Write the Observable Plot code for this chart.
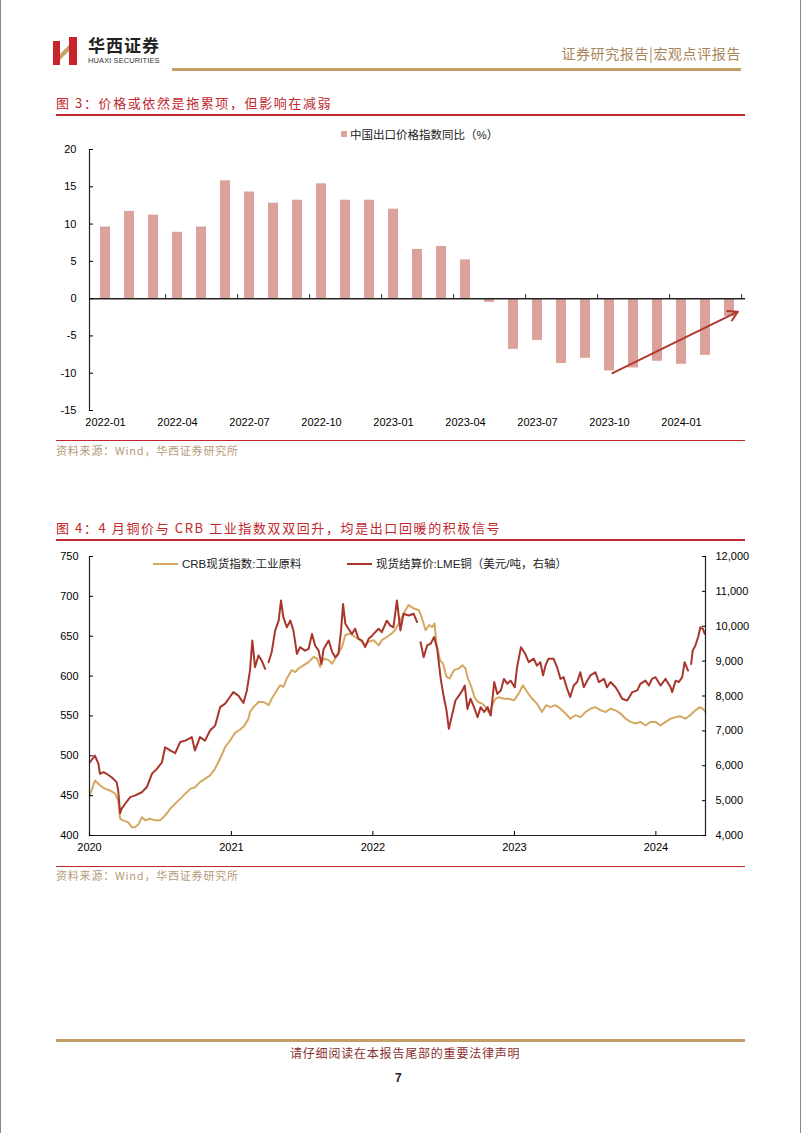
<!DOCTYPE html>
<html><head><meta charset="utf-8">
<script src="https://cdn.jsdelivr.net/npm/d3@7"></script>
<script src="https://cdn.jsdelivr.net/npm/@observablehq/plot@0.6"></script>
<style>
body{margin:0;background:#fff;}
#page{position:relative;width:802px;height:1133px;overflow:hidden;font-family:"Noto Sans CJK SC",sans-serif;background:#fff;}
.a{position:absolute;white-space:nowrap;}
.title{font-size:13px;color:#c1272d;letter-spacing:1.6px;line-height:16px;}
.src{font-size:11px;color:#b59a78;letter-spacing:0.8px;line-height:14px;}
.rline{height:1.5px;background:#c1272d;left:56px;width:689px;}
.leg{font-family:"Liberation Sans","Noto Sans CJK SC",sans-serif;font-size:11.5px;color:#222;line-height:14px;}
</style></head><body><div id="page">
<div class="a" style="left:0;top:0;width:1px;height:1133px;background:#8a8a8a"></div>
<div class="a" style="left:800px;top:0;width:1px;height:1133px;background:#8a8a8a"></div>
<svg class="a" style="left:53px;top:37px" width="26" height="28"><rect x="0" y="4" width="7" height="24" fill="#c8232c"/><rect x="16" y="0" width="8" height="28" fill="#c8232c"/><polygon points="7,17 16,8 16,14 7,23" fill="#c9a063"/></svg>
<div class="a" style="left:88px;top:35px;font-size:17px;font-weight:bold;letter-spacing:1px;color:#222;line-height:20px">华西证券</div>
<div class="a" style="left:88px;top:56px;font-family:'Liberation Sans',sans-serif;font-size:7.5px;color:#333;line-height:9px;letter-spacing:0.1px">HUAXI SECURITIES</div>
<div class="a" style="right:61px;top:44px;font-size:14px;color:#a88658;letter-spacing:0.6px;line-height:18px">证券研究报告|宏观点评报告</div>
<div class="a" style="left:172px;top:68px;width:569px;height:2.5px;background:#c59f68"></div>

<div class="a title" style="left:56px;top:95px">图 3：价格或依然是拖累项，但影响在减弱</div>
<div class="a rline" style="top:114px"></div>
<div class="a" style="left:341px;top:131px;width:6px;height:6px" id="leg1sq"></div>
<div class="a leg" style="left:350px;top:128px">中国出口价格指数同比（%）</div>
<div class="a" id="chart1" style="left:40px;top:120px"></div>
<div class="a rline" style="top:440px;height:1px"></div>
<div class="a src" style="left:56px;top:443px">资料来源：Wind，华西证券研究所</div>

<div class="a title" style="left:56px;top:520px">图 4：4 月铜价与 CRB 工业指数双双回升，均是出口回暖的积极信号</div>
<div class="a rline" style="top:539px"></div>
<div class="a" id="leg2a" style="left:153px;top:563px;width:25px;height:2px"></div>
<div class="a leg" style="left:182px;top:557px">CRB现货指数:工业原料</div>
<div class="a" id="leg2b" style="left:347px;top:563px;width:25px;height:2px"></div>
<div class="a leg" style="left:376px;top:557px">现货结算价:LME铜（美元/吨，右轴）</div>
<div class="a" id="chart2" style="left:40px;top:540px"></div>
<div class="a rline" style="top:866px;height:1px"></div>
<div class="a src" style="left:56px;top:868px">资料来源：Wind，华西证券研究所</div>

<div class="a" style="left:56px;top:1039px;width:689px;height:3px;background:#c59f68"></div>
<div class="a" style="left:290px;top:1045px;font-size:12px;color:#8a3030;letter-spacing:0.8px;line-height:16px">请仔细阅读在本报告尾部的重要法律声明</div>
<div class="a" style="left:395px;top:1071px;font-family:'Liberation Sans',sans-serif;font-size:12px;font-weight:bold;color:#222">7</div>
</div>
<script>
// ---------- Chart 1 data ----------
const months = ["2022-01","2022-02","2022-03","2022-04","2022-05","2022-06","2022-07","2022-08","2022-09","2022-10","2022-11","2022-12",
  "2023-01","2023-02","2023-03","2023-04","2023-05","2023-06","2023-07","2023-08","2023-09","2023-10","2023-11","2023-12",
  "2024-01","2024-02","2024-03"];
const exportPriceYoY = [9.6, 11.7, 11.2, 8.9, 9.6, 15.8, 14.3, 12.8, 13.2, 15.4, 13.2, 13.2,
  12.0, 6.6, 7.0, 5.2, -0.5, -6.8, -5.6, -8.7, -8.0, -9.7, -9.3, -8.4,
  -8.8, -7.6, -2.4];
const monthLabels = ["2022-01","2022-04","2022-07","2022-10","2023-01","2023-04","2023-07","2023-10","2024-01"];
const monthTickAfter = ["2022-03","2022-06","2022-09","2022-12","2023-03","2023-06","2023-09","2023-12","2024-03"];
const yTicks1 = [-15, -10, -5, 0, 5, 10, 15, 20];
const trendArrow = [{from: "2023-10", to: "2024-03", yFrom: -10, yTo: -2.1}];

// ---------- Chart 2 data ----------
const crbIndustrial = [
 ["2020-01-02",450.5],["2020-01-15",469],["2020-01-28",463],["2020-02-10",458.5],["2020-02-23",456.5],["2020-03-07",452.5],["2020-03-15",444],["2020-03-20",421],["2020-03-28",419],["2020-04-10",416.5],["2020-04-19",410.5],["2020-04-28",410.5],["2020-05-07",414.5],["2020-05-15",423],["2020-05-24",419],["2020-06-05",421],["2020-06-18",419],["2020-07-01",419],["2020-07-14",425],["2020-07-27",433.5],["2020-08-09",440],["2020-08-22",446],["2020-09-04",452.5],["2020-09-17",458.5],["2020-09-29",460.5],["2020-10-12",467],["2020-10-25",471],["2020-11-07",475.5],["2020-11-20",484],["2020-12-03",496.5],["2020-12-16",511],["2020-12-29",519.5],
 ["2021-01-11",529],["2021-01-24",533],["2021-02-04",538],["2021-02-14",546.5],["2021-02-18",555],["2021-02-27",561],["2021-03-12",567.5],["2021-03-25",567.5],["2021-04-07",563.5],["2021-04-15",571.5],["2021-04-28",582],["2021-05-07",588.5],["2021-05-15",586.5],["2021-05-24",597],["2021-06-06",607.5],["2021-06-15",605],["2021-06-23",609.5],["2021-07-06",613.5],["2021-07-19",617.5],["2021-08-01",624],["2021-08-10",622],["2021-08-18",611.5],["2021-08-27",622],["2021-09-09",620],["2021-09-18",615.5],["2021-09-26",622],["2021-10-04",628.5],["2021-10-13",636.5],["2021-10-22",651.5],["2021-11-04",653.5],["2021-11-16",649],["2021-11-30",645],["2021-12-12",638.5],["2021-12-21",643],
 ["2022-01-03",645],["2022-01-16",638.5],["2022-01-24",645],["2022-02-06",649],["2022-02-19",653.5],["2022-02-27",657.5],["2022-03-13",670],["2022-03-26",682.5],["2022-04-03",689],["2022-04-16",685],["2022-04-30",682.5],["2022-05-08",672],["2022-05-17",657.5],["2022-05-26",664],["2022-06-03",661.5],["2022-06-09",666],["2022-06-14",641],["2022-06-23",620],["2022-07-01",615.5],["2022-07-10",599],["2022-07-18",597],["2022-07-29",607.5],["2022-08-11",609.5],["2022-08-20",613.5],["2022-08-28",609.5],["2022-09-03",597],["2022-09-12",586.5],["2022-09-20",573.5],["2022-09-29",567.5],["2022-10-10",565.5],["2022-10-19",561],["2022-10-29",553],["2022-11-05",563.5],["2022-11-13",571.5],["2022-11-22",573.5],["2022-12-05",571.5],["2022-12-18",571.5],["2022-12-31",569.5],
 ["2023-01-12",578],["2023-01-23",588.5],["2023-02-03",580],["2023-02-16",571.5],["2023-02-28",565.5],["2023-03-13",555],["2023-03-24",563.5],["2023-04-04",561],["2023-04-17",563.5],["2023-04-30",559],["2023-05-13",553],["2023-05-25",546.5],["2023-06-08",551],["2023-06-20",548.5],["2023-07-04",555],["2023-07-16",559],["2023-07-29",561],["2023-08-12",557],["2023-08-25",555],["2023-09-06",559],["2023-09-19",557],["2023-10-02",553],["2023-10-15",546.5],["2023-10-28",542.5],["2023-11-10",540.5],["2023-11-22",542.5],["2023-12-05",538],["2023-12-18",542.5],["2023-12-31",542.5],
 ["2024-01-13",538],["2024-01-26",542.5],["2024-02-08",546.5],["2024-02-21",548.5],["2024-03-04",549.5],["2024-03-17",546.5],["2024-03-30",551],["2024-04-12",557],["2024-04-23",561],["2024-05-01",559],["2024-05-08",555]
];
const lmeCopper = [
 ["2020-01-02",6100],["2020-01-15",6290],["2020-01-24",6060],["2020-01-28",5770],["2020-02-06",5820],["2020-02-14",5770],["2020-02-27",5670],["2020-03-11",5530],["2020-03-15",5290],["2020-03-20",4640],["2020-03-24",4770],["2020-04-02",4910],["2020-04-15",5100],["2020-04-28",5150],["2020-05-15",5240],["2020-05-28",5390],["2020-06-10",5770],["2020-06-23",5910],["2020-07-06",6100],["2020-07-14",6530],["2020-07-27",6440],["2020-08-09",6360],["2020-08-22",6680],["2020-09-04",6720],["2020-09-21",6820],["2020-09-29",6440],["2020-10-12",6820],["2020-10-25",6720],["2020-11-07",7010],["2020-11-20",7150],["2020-12-03",7680],["2020-12-16",7780],["2020-12-25",7920],
 ["2021-01-06",8110],["2021-01-19",8010],["2021-02-01",7800],["2021-02-10",8160],["2021-02-18",8730],["2021-02-24",9590],["2021-03-03",8830],["2021-03-12",9160],["2021-03-20",9020],["2021-03-29",8780],["2021-04-02",null],["2021-04-07",8970],["2021-04-15",9260],["2021-04-24",9880],["2021-05-03",10160],["2021-05-09",10740],["2021-05-15",10260],["2021-05-24",9970],["2021-06-02",10160],["2021-06-10",9880],["2021-06-19",9210],["2021-06-27",9400],["2021-07-10",9300],["2021-07-19",9350],["2021-07-28",9780],["2021-08-05",9450],["2021-08-14",9300],["2021-08-21",8920],["2021-08-27",9350],["2021-09-09",9590],["2021-09-18",9260],["2021-09-26",9110],["2021-10-04",9210],["2021-10-11",9880],["2021-10-16",10640],["2021-10-22",10070],["2021-10-30",9930],["2021-11-08",9780],["2021-11-16",9930],["2021-11-25",9640],["2021-12-04",9590],["2021-12-12",9400],["2021-12-21",9640],["2021-12-30",9730],
 ["2022-01-07",9830],["2022-01-16",9930],["2022-01-24",9830],["2022-02-06",10160],["2022-02-15",10020],["2022-02-23",9970],["2022-03-04",10740],["2022-03-13",9880],["2022-03-21",10360],["2022-04-03",10310],["2022-04-16",10360],["2022-04-25",10120],["2022-04-29",null],["2022-05-04",9540],["2022-05-12",9110],["2022-05-21",9450],["2022-05-30",9500],["2022-06-08",9690],["2022-06-16",9350],["2022-06-25",8490],["2022-07-03",7970],["2022-07-10",7580],["2022-07-16",7060],["2022-07-25",7490],["2022-08-02",7870],["2022-08-11",8010],["2022-08-20",8160],["2022-08-26",8300],["2022-09-02",7630],["2022-09-10",7920],["2022-09-19",7680],["2022-09-28",7390],["2022-10-06",7680],["2022-10-15",7540],["2022-10-24",7680],["2022-11-01",7440],["2022-11-10",8400],["2022-11-18",8060],["2022-11-27",8160],["2022-12-05",8490],["2022-12-14",8350],["2022-12-22",8440],
 ["2023-01-02",8250],["2023-01-08",8830],["2023-01-18",9400],["2023-01-29",9210],["2023-02-07",8970],["2023-02-20",9070],["2023-02-28",8870],["2023-03-09",8970],["2023-03-16",8590],["2023-03-22",8870],["2023-03-30",9070],["2023-04-12",9070],["2023-04-21",8830],["2023-04-30",8490],["2023-05-08",8540],["2023-05-17",8210],["2023-05-25",7970],["2023-06-03",8300],["2023-06-12",8400],["2023-06-20",8680],["2023-06-29",8250],["2023-07-08",8440],["2023-07-16",8590],["2023-07-29",8680],["2023-08-07",8400],["2023-08-20",8490],["2023-08-28",8250],["2023-09-06",8400],["2023-09-19",8250],["2023-09-27",8110],["2023-10-06",7920],["2023-10-19",7870],["2023-11-01",8110],["2023-11-14",8160],["2023-11-22",8350],["2023-12-05",8440],["2023-12-14",8300],["2023-12-22",8490],["2023-12-31",8540],
 ["2024-01-13",8300],["2024-01-26",8490],["2024-02-08",8250],["2024-02-12",8110],["2024-02-21",8440],["2024-02-29",8400],["2024-03-09",8540],["2024-03-15",8970],["2024-03-24",8730],["2024-03-28",null],["2024-04-01",8920],["2024-04-05",9300],["2024-04-12",9450],["2024-04-19",9690],["2024-04-25",9970],["2024-05-01",9930],["2024-05-06",9780]
];
const leftTicks = [400, 450, 500, 550, 600, 650, 700, 750];
const rightTicks = [4000, 5000, 6000, 7000, 8000, 9000, 10000, 11000, 12000];
const yearTicks = ["2020-01-01", "2021-01-01", "2022-01-01", "2023-01-01", "2024-01-01"];
const dateDomain = ["2020-01-01", "2024-05-08"];

// ---------- colors ----------
const barColor = "#dba29b", arrowColor = "#b0392f", crbColor = "#d5a862", lmeColor = "#a8362d";
document.getElementById("leg1sq").style.background = barColor;
document.getElementById("leg2a").style.background = crbColor;
document.getElementById("leg2b").style.background = lmeColor;

const axisStyle = {fontFamily: '"Liberation Sans", Arial, sans-serif', fontSize: "11px", color: "#000", background: "transparent", overflow: "visible"};

// ---------- Chart 1 ----------
const W1 = 720, H1 = 320, ML1 = 49, MR1 = 15;
const step1 = (W1 - ML1 - MR1) / months.length;
const bars = months.map((m, i) => ({month: m, value: exportPriceYoY[i]}));
const chart1 = Plot.plot({
  width: W1, height: H1, marginLeft: ML1, marginRight: MR1, marginTop: 29, marginBottom: 30,
  style: axisStyle,
  x: {type: "band", domain: months, paddingInner: 0.58, paddingOuter: 0.29, axis: null},
  y: {domain: [-15, 20], axis: null},
  marks: [
    Plot.barY(bars, {x: "month", y: "value", fill: barColor}),
    Plot.ruleY([0], {stroke: "#222", strokeWidth: 1.5}),
    Plot.ruleX(monthTickAfter, {x: d => d, y1: 0, y2: 0, insetTop: -4, dx: step1 / 2, stroke: "#222"}),
    Plot.frame({anchor: "left", stroke: "#222", strokeWidth: 1.2}),
    Plot.axisY(yTicks1, {anchor: "left", label: null, tickSize: -4, tickPadding: 17, tickFormat: d => String(d)}),
    Plot.axisX(monthLabels, {anchor: "bottom", label: null, tickSize: 0, tickPadding: 8}),
    Plot.arrow(trendArrow, {x1: "from", y1: "yFrom", x2: "to", y2: "yTo", stroke: arrowColor, strokeWidth: 2, dx: 3, insetEnd: -6, headLength: 8})
  ]
});
document.getElementById("chart1").append(chart1);

// ---------- Chart 2 ----------
const L0 = 400, L1 = 750, R0 = 4000, R1 = 12000;
const toLeft = v => L0 + (v - R0) * (L1 - L0) / (R1 - R0);
const toRight = v => R0 + (v - L0) * (R1 - R0) / (L1 - L0);
const parse = s => new Date(s + "T00:00:00Z");
const crb = crbIndustrial.map(([d, v]) => ({date: parse(d), value: v}));
const lme = lmeCopper.map(([d, v]) => ({date: parse(d), value: v == null ? NaN : toLeft(v)}));
const chart2 = Plot.plot({
  width: 730, height: 320, marginLeft: 49, marginRight: 65, marginTop: 16, marginBottom: 25,
  style: axisStyle,
  x: {type: "utc", domain: dateDomain.map(parse), axis: null},
  y: {domain: [L0, L1], axis: null},
  marks: [
    Plot.line(crb, {x: "date", y: "value", stroke: crbColor, strokeWidth: 2}),
    Plot.line(lme, {x: "date", y: "value", stroke: lmeColor, strokeWidth: 2}),
    Plot.frame({anchor: "left", stroke: "#222", strokeWidth: 1.2}),
    Plot.frame({anchor: "right", stroke: "#222", strokeWidth: 1.2}),
    Plot.frame({anchor: "bottom", stroke: "#222", strokeWidth: 1.2}),
    Plot.axisY(leftTicks, {anchor: "left", label: null, tickSize: -4, tickPadding: 15}),
    Plot.axisY(rightTicks.map(toLeft), {anchor: "right", label: null, tickSize: -4, tickPadding: 14, tickFormat: d => d3.format(",")(Math.round(toRight(d)))}),
    Plot.axisX(yearTicks.map(parse), {anchor: "bottom", label: null, tickSize: -4, tickPadding: 12, tickFormat: d3.utcFormat("%Y")})
  ]
});
document.getElementById("chart2").append(chart2);
</script>
</body></html>
